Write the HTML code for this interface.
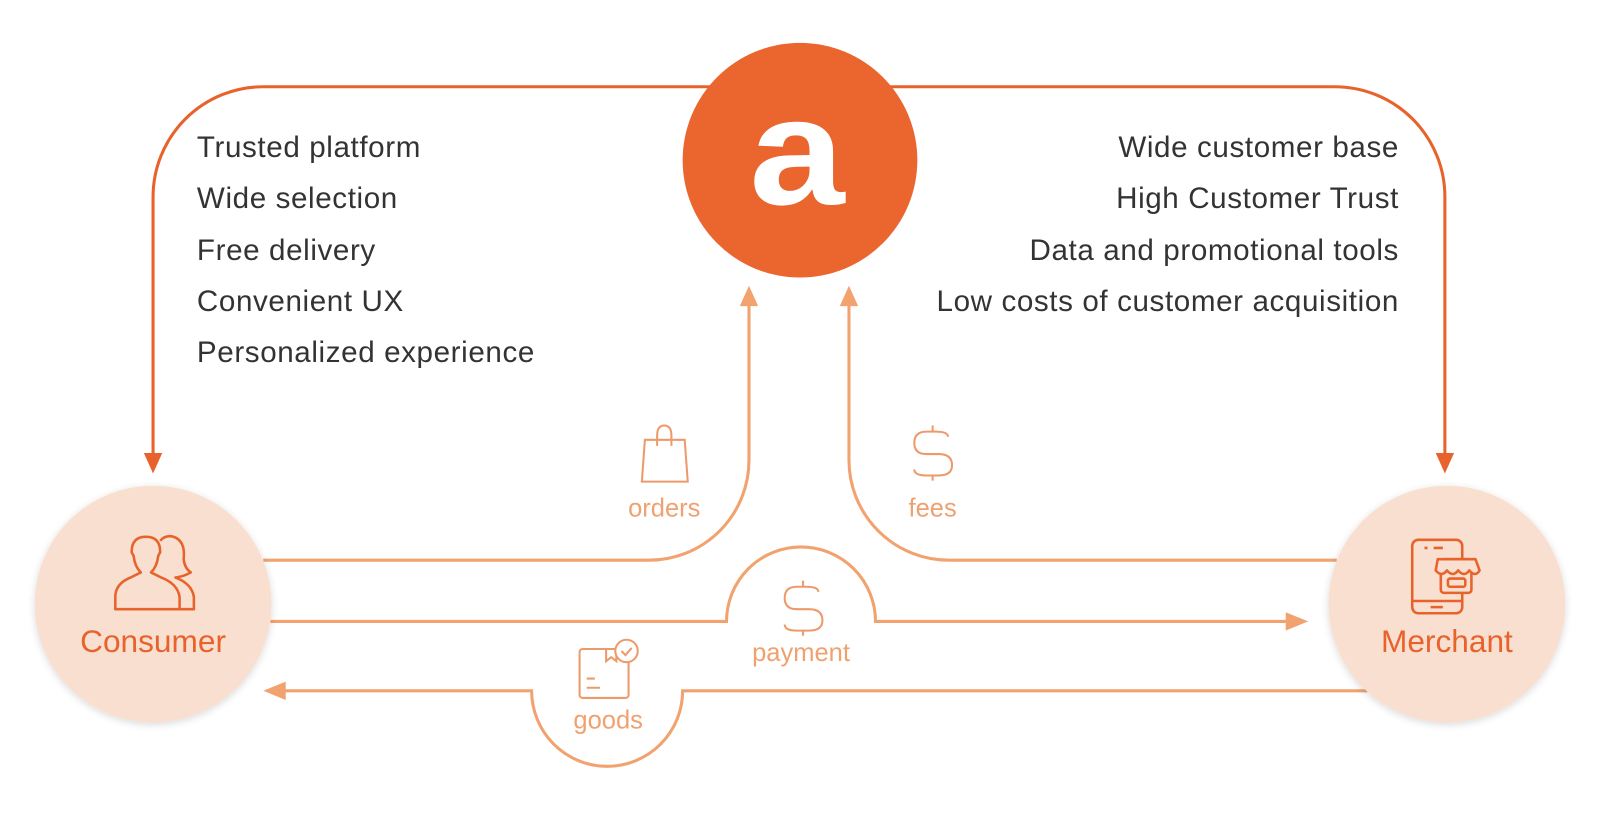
<!DOCTYPE html>
<html><head><meta charset="utf-8"><style>
body{margin:0;background:#fff;width:1600px;height:829px;overflow:hidden}
svg{display:block}
</style></head><body>
<svg width="1600" height="829" viewBox="0 0 1600 829" xmlns="http://www.w3.org/2000/svg">
<defs>
<filter id="sh" x="-20%" y="-20%" width="140%" height="140%"><feGaussianBlur in="SourceAlpha" stdDeviation="4"/><feOffset dy="2"/><feComponentTransfer><feFuncA type="linear" slope="0.15"/></feComponentTransfer><feMerge><feMergeNode/><feMergeNode in="SourceGraphic"/></feMerge></filter>
</defs>
<g transform="scale(1.0204)">
<g fill="none" stroke="#E8632B" stroke-width="3">
<path d="M700 85 H258 A108 108 0 0 0 150 193 V448"/>
<path d="M868 85 H1308 A108 108 0 0 1 1416 193 V448"/>
</g>
<polygon points="141,444 159,444 150,464" fill="#E8632B"/>
<polygon points="1407,444 1425,444 1416,464" fill="#E8632B"/>
<g fill="none" stroke="#F2A26F" stroke-width="3">
<path d="M258 549 H636 A98 98 0 0 0 734 451 V298"/>
<path d="M832 298 V451 A98 98 0 0 0 930 549 H1310"/>
<path d="M265 609 H712 A73 73 0 0 1 858 609 H1264"/>
<path d="M1340 677 H669 A74 74 0 0 1 521 677 H276"/>
</g>
<polygon points="725,300 743,300 734,280" fill="#F2A26F"/>
<polygon points="823,300 841,300 832,280" fill="#F2A26F"/>
<polygon points="1260,600 1260,618 1282,609" fill="#F2A26F"/>
<polygon points="280,668 280,686 258,677" fill="#F2A26F"/>
<circle cx="784" cy="157" r="115" fill="#EA662E"/>
<text transform="translate(781 200) scale(1.12 1)" x="0" y="0" font-family="Liberation Sans, sans-serif" font-weight="bold" font-size="150" fill="#fff" text-anchor="middle">a</text>
<circle cx="150" cy="592" r="116" fill="#F9DFD0" filter="url(#sh)"/>
<circle cx="1418" cy="592" r="116" fill="#F9DFD0" filter="url(#sh)"/>
<g fill="none" stroke="#E8632B" stroke-width="2.5" stroke-linejoin="round">
<path d="M113 597 V585 Q113 572 128 566 L138 561 Q132 555 131 545 L129 541 Q129 526 143 526 Q157 526 157 541 L155 545 Q154 555 148 561 L158 566 Q174 572 176 585 V597 Z"/>
<path d="M157 530 Q162 524 170 526 Q182 530 180 548 Q181 557 187 561 Q180 565 172 566 Q188 572 190 585 V597 H176"/>
<rect x="1384" y="529" width="49" height="72" rx="6"/>
<path d="M1384 589 H1433 M1396 537 H1399 M1405 537 H1414 M1402 595 H1414"/>
<rect x="1412" y="548" width="30" height="33" rx="3" fill="#F9DFD0"/>
<path d="M1409 548 H1446 L1450 559 Q1446 566 1440 559 Q1435 566 1429 559 Q1424 566 1418 559 Q1413 566 1407 559 Z" fill="#F9DFD0"/>
<rect x="1419" y="567" width="17" height="8" rx="2"/>
</g>
<g fill="none" stroke="#ED9A6A" stroke-width="2">
<path d="M642 431 L632 431 L629 472 L674 472 L671 431 Z"/>
<path d="M644 437 V427 Q644 417 651 417 Q658 417 658 427 V437"/>
<path d="M929 428 Q929 423 917 423 H908 Q896 423 896 434 Q896 445 908 445 H920 Q933 445 933 456 Q933 466 920 466 H908 Q896 466 896 460 M914 417 V423 M914 466 V471"/>
<path d="M802 580 Q802 575 790 575 H781 Q769 575 769 586 Q769 597 781 597 H793 Q806 597 806 608 Q806 618 793 618 H781 Q769 618 769 612 M787 569 V575 M787 618 V623"/>
<rect x="568" y="636" width="48" height="48" rx="3"/>
<path d="M594 636 V648 L599 644 L604 648 V636 M575 665 H583 M575 674 H588"/>
<circle cx="614" cy="638" r="11" fill="#fff"/>
<path d="M609 638 L613 642 L619 635"/>
</g>
<g font-family="Liberation Sans, sans-serif" fill="#F0A170" font-size="25" text-anchor="middle">
<text x="651" y="506">orders</text>
<text x="914" y="506">fees</text>
<text x="785" y="648">payment</text>
<text x="596" y="714">goods</text>
</g>
<g font-family="Liberation Sans, sans-serif" fill="#E8632B" font-size="31" text-anchor="middle">
<text x="150" y="639">Consumer</text>
<text x="1418" y="639">Merchant</text>
</g>
<g font-family="Liberation Sans, sans-serif" fill="#333" font-size="29" letter-spacing="0.6">
<text x="193" y="154">Trusted platform</text>
<text x="193" y="204">Wide selection</text>
<text x="193" y="255">Free delivery</text>
<text x="193" y="305">Convenient UX</text>
<text x="193" y="355">Personalized experience</text>
<g text-anchor="end">
<text x="1371" y="154">Wide customer base</text>
<text x="1371" y="204">High Customer Trust</text>
<text x="1371" y="255">Data and promotional tools</text>
<text x="1371" y="305">Low costs of customer acquisition</text>
</g>
</g>
</g>
</svg>
</body></html>
